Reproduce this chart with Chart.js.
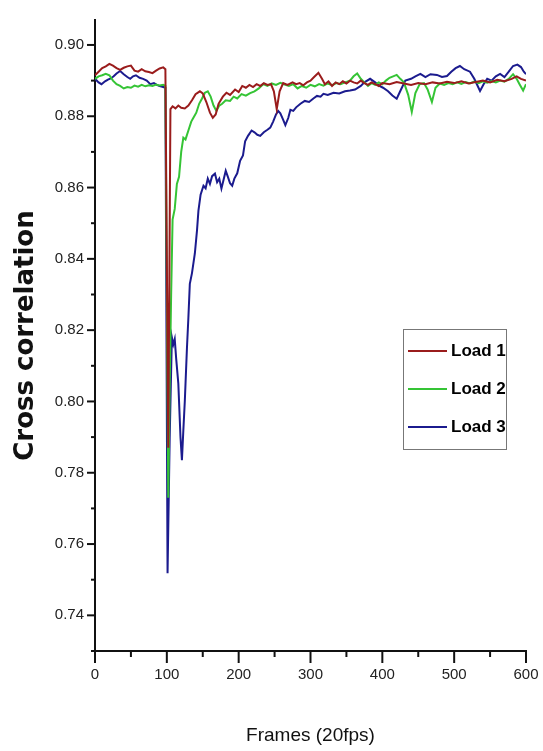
<!DOCTYPE html>
<html>
<head>
<meta charset="utf-8">
<title>Cross correlation</title>
<script src="https://cdn.jsdelivr.net/npm/chart.js@4"></script>
<style>
    body { margin: 0; background: #fff; }
    #wrap { width: 543px; height: 751px; position: relative; }
</style>
</head>
<body>
<div id="wrap"><canvas id="corrChart"></canvas></div>
<script>
const seriesLabels = ['Load 1', 'Load 2', 'Load 3'];
const seriesColors = ['#9a1c1c', '#35c435', '#1b1b8e'];

const load1Frames = [0, 5, 10, 15, 20, 25, 30, 35, 40, 45, 50, 55, 60, 65, 70, 75, 80, 85, 90, 95, 98,
    102, 105, 108, 112, 116, 120, 125, 130, 135, 140, 146, 150, 155, 160, 164, 168, 172, 178, 183, 188,
    195, 200, 205, 210, 215, 220, 225, 230, 235, 240, 245, 249, 253, 257, 262, 268, 275, 280, 285, 290,
    295, 300, 305, 311, 316, 320, 325, 330, 335, 340, 345, 350, 355, 360, 365, 370, 375, 380, 385, 390,
    395, 400, 410, 420, 430, 440, 450, 460, 470, 480, 490, 500, 510, 520, 530, 540, 550, 560, 570, 580,
    587, 593, 600];
const load1Values = [0.8915, 0.8925, 0.8935, 0.8940, 0.8947, 0.8942, 0.8935, 0.8930, 0.8936, 0.8940,
    0.8942, 0.8928, 0.8925, 0.8932, 0.8926, 0.8924, 0.8921, 0.8928, 0.8934, 0.8937, 0.8932,
    0.7870, 0.8820, 0.8828, 0.8822, 0.8830, 0.8824, 0.8822, 0.8830, 0.8845, 0.8862, 0.8870, 0.8864,
    0.8840, 0.8810, 0.8796, 0.8805, 0.8835, 0.8855, 0.8866, 0.8860, 0.8875, 0.8868, 0.8885, 0.8880,
    0.8888, 0.8882, 0.8890, 0.8885, 0.8893, 0.8888, 0.8890, 0.8870, 0.8820, 0.8870, 0.8893, 0.8888,
    0.8895, 0.8890, 0.8893, 0.8887, 0.8895, 0.8900, 0.8910, 0.8922, 0.8905, 0.8890, 0.8898, 0.8885,
    0.8895, 0.8890, 0.8898, 0.8892, 0.8900, 0.8895, 0.8892, 0.8900, 0.8893, 0.8888, 0.8895, 0.8890,
    0.8885, 0.8893, 0.8890, 0.8896, 0.8892, 0.8888, 0.8893, 0.8890, 0.8895, 0.8892, 0.8897, 0.8893,
    0.8898, 0.8892, 0.8896, 0.8900, 0.8895, 0.8902, 0.8898, 0.8905, 0.8912, 0.8905, 0.8900];

const load2Frames = [0, 5, 10, 15, 20, 25, 30, 35, 40, 45, 50, 55, 60, 65, 70, 75, 80, 85, 90, 95, 98,
    102, 104, 106, 108, 111, 114, 117, 120, 123, 126, 130, 134, 137, 141, 145, 149, 153, 157, 161, 165,
    169, 173, 177, 182, 188, 193, 198, 204, 210, 216, 222, 228, 234, 240, 246, 252, 258, 264, 270, 276,
    282, 288, 294, 300, 306, 312, 318, 324, 330, 336, 342, 348, 355, 360, 365, 370, 375, 380, 385, 390,
    395, 400, 405, 410, 415, 420, 425, 430, 436, 441, 446, 452, 458, 463, 469, 474, 480, 486, 492, 498,
    504, 510, 516, 522, 528, 534, 540, 546, 552, 558, 564, 570, 576, 582, 587, 591, 596, 600];
const load2Values = [0.8905, 0.8912, 0.8915, 0.8919, 0.8915, 0.8900, 0.8890, 0.8885, 0.8878, 0.8882,
    0.8880, 0.8886, 0.8883, 0.8888, 0.8884, 0.8887, 0.8885, 0.8889, 0.8886, 0.8888, 0.8885,
    0.7730, 0.8050, 0.8300, 0.8510, 0.8540, 0.8610, 0.8630, 0.8700, 0.8740, 0.8735, 0.8760, 0.8785,
    0.8796, 0.8810, 0.8835, 0.8850, 0.8866, 0.8870, 0.8855, 0.8830, 0.8815, 0.8830, 0.8835, 0.8845,
    0.8843, 0.8855, 0.8850, 0.8862, 0.8858, 0.8865, 0.8870, 0.8878, 0.8890, 0.8885, 0.8892, 0.8888,
    0.8894, 0.8889, 0.8885, 0.8890, 0.8878, 0.8885, 0.8880, 0.8888, 0.8884, 0.8890, 0.8886, 0.8892,
    0.8887, 0.8893, 0.8890, 0.8895, 0.8900, 0.8912, 0.8920, 0.8905, 0.8895, 0.8885, 0.8893, 0.8888,
    0.8895, 0.8890, 0.8900, 0.8908, 0.8912, 0.8916, 0.8905, 0.8895, 0.8860, 0.8812, 0.8865, 0.8890,
    0.8893, 0.8875, 0.8840, 0.8880, 0.8892, 0.8888, 0.8893, 0.8890, 0.8895, 0.8891, 0.8896, 0.8892,
    0.8897, 0.8893, 0.8898, 0.8894, 0.8899, 0.8895, 0.8900, 0.8897, 0.8905, 0.8918, 0.8905, 0.8890,
    0.8872, 0.8890];

const load3Frames = [0, 5, 9, 14, 18, 22, 26, 30, 35, 40, 45, 49, 53, 57, 62, 67, 72, 77, 82, 86, 90, 95,
    98, 101, 104, 107, 109, 111, 113, 116, 119, 121, 123, 125, 128, 130, 132, 135, 139, 142, 144, 147,
    151, 154, 157, 160, 163, 167, 170, 173, 176, 179, 182, 185, 188, 191, 194, 198, 202, 206, 209, 213,
    218, 222, 226, 230, 235, 240, 244, 248, 252, 255, 258, 262, 265, 269, 272, 276, 280, 286, 292, 298,
    304, 309, 314, 318, 324, 332, 340, 348, 355, 362, 370, 375, 383, 390, 396, 401, 408, 414, 420, 426,
    432, 440, 446, 453, 460, 467, 476, 483, 490, 496, 502, 508, 514, 522, 528, 536, 541, 546, 552, 558,
    564, 570, 576, 582, 588, 593, 597, 600];
const load3Values = [0.8905, 0.8895, 0.8890, 0.8898, 0.8903, 0.8906, 0.8912, 0.8920, 0.8927, 0.8918,
    0.8910, 0.8905, 0.8912, 0.8915, 0.8908, 0.8905, 0.8900, 0.8890, 0.8893, 0.8888, 0.8885, 0.8882,
    0.8880, 0.7518, 0.7900, 0.8180, 0.8160, 0.8175, 0.8120, 0.8050, 0.7900, 0.7835, 0.7920, 0.8000,
    0.8150, 0.8235, 0.8330, 0.8360, 0.8415, 0.8480, 0.8535, 0.8580, 0.8605, 0.8598, 0.8625, 0.8610,
    0.8632, 0.8639, 0.8615, 0.8625, 0.8597, 0.8622, 0.8647, 0.8630, 0.8612, 0.8605, 0.8625, 0.8640,
    0.8675, 0.8690, 0.8730, 0.8745, 0.8760, 0.8755, 0.8748, 0.8745, 0.8755, 0.8762, 0.8768, 0.8785,
    0.8805, 0.8815, 0.8808, 0.8790, 0.8775, 0.8795, 0.8818, 0.8815, 0.8825, 0.8835, 0.8843, 0.8840,
    0.8850, 0.8857, 0.8855, 0.8863, 0.8860, 0.8866, 0.8864, 0.8870, 0.8872, 0.8875, 0.8885, 0.8895,
    0.8905, 0.8895, 0.8885, 0.8880, 0.8870, 0.8858, 0.8849, 0.8875, 0.8900, 0.8905, 0.8912, 0.8919,
    0.8910, 0.8918, 0.8916, 0.8910, 0.8913, 0.8925, 0.8935, 0.8941, 0.8932, 0.8925, 0.8905, 0.8871,
    0.8890, 0.8905, 0.8900, 0.8912, 0.8919, 0.8910, 0.8925, 0.8941, 0.8945, 0.8938, 0.8925, 0.8918];

const yTickLabels = ['0.74', '0.76', '0.78', '0.80', '0.82', '0.84', '0.86', '0.88', '0.90'];
const xTickLabels = ['0', '100', '200', '300', '400', '500', '600'];

const toPoints = (frames, values) => frames.map((f, i) => ({ x: f, y: values[i] }));

const sans = 'Arial, "Liberation Sans", sans-serif';

// tick marks drawn by hand: long ones on labelled values, short ones between
const axisTicks = {
    id: 'axisTicks',
    afterDraw(chart) {
        const { ctx, scales: { x, y } } = chart;
        ctx.save();
        ctx.strokeStyle = '#111';
        ctx.lineWidth = 2;
        x.ticks.forEach(t => {
            const px = x.getPixelForValue(t.value);
            const len = xTickLabels.includes(String(Math.round(t.value))) ? 12 : 6;
            ctx.beginPath();
            ctx.moveTo(px, x.top);
            ctx.lineTo(px, x.top + len);
            ctx.stroke();
        });
        y.ticks.forEach(t => {
            const py = y.getPixelForValue(t.value);
            const len = yTickLabels.includes(t.value.toFixed(2)) ? 8 : 4;
            ctx.beginPath();
            ctx.moveTo(y.right, py);
            ctx.lineTo(y.right - len, py);
            ctx.stroke();
        });
        ctx.restore();
    }
};

// boxed legend inside the plot, like the original
const boxLegend = {
    id: 'boxLegend',
    afterDraw(chart) {
        const { ctx, chartArea } = chart;
        const left = chartArea.right - 123;
        const top = chartArea.top + 309;
        ctx.save();
        ctx.strokeStyle = '#777';
        ctx.lineWidth = 1;
        ctx.strokeRect(left + 0.5, top + 0.5, 103, 120);
        ctx.font = 'bold 17px ' + sans;
        ctx.textBaseline = 'middle';
        chart.data.datasets.forEach((ds, i) => {
            const rowY = top + 22 + i * 38;
            ctx.strokeStyle = ds.borderColor;
            ctx.lineWidth = 2;
            ctx.beginPath();
            ctx.moveTo(left + 5, rowY);
            ctx.lineTo(left + 44, rowY);
            ctx.stroke();
            ctx.fillStyle = '#000';
            ctx.fillText(ds.label, left + 48, rowY);
        });
        ctx.restore();
    }
};

document.addEventListener('DOMContentLoaded', () => {
    const canvas = document.getElementById('corrChart');
    const allFrames = [load1Frames, load2Frames, load3Frames];
    const allValues = [load1Values, load2Values, load3Values];

    new Chart(canvas, {
        type: 'line',
        data: {
            datasets: seriesLabels.map((label, i) => ({
                label: label,
                data: toPoints(allFrames[i], allValues[i]),
                borderColor: seriesColors[i],
                borderWidth: 2,
                pointRadius: 0,
                tension: 0,
                fill: false
            }))
        },
        options: {
            responsive: true,
            maintainAspectRatio: false,
            animation: false,
            layout: { padding: { left: 0, right: 17, top: 18, bottom: 0 } },
            plugins: {
                legend: { display: false },
                tooltip: { enabled: false }
            },
            scales: {
                x: {
                    type: 'linear',
                    min: 0,
                    max: 600,
                    afterFit: (scale) => {
                        scale.height = 100;
                        scale.paddingLeft = 0;
                        scale.paddingRight = 0;
                    },
                    border: { display: true, color: '#111', width: 2 },
                    grid: { display: false, drawTicks: false },
                    ticks: {
                        stepSize: 50,
                        padding: 15,
                        maxRotation: 0,
                        autoSkip: false,
                        color: '#222',
                        font: { family: sans, size: 15 },
                        callback: (v) => {
                            const s = String(Math.round(v));
                            return xTickLabels.includes(s) ? s : '';
                        }
                    },
                    title: {
                        display: true,
                        text: 'Frames (20fps)',
                        color: '#111',
                        font: { family: sans, size: 19 },
                        padding: { top: 0, bottom: 4 }
                    }
                },
                y: {
                    min: 0.73,
                    max: 0.907,
                    afterFit: (scale) => { scale.width = 95; },
                    border: { display: true, color: '#111', width: 2 },
                    grid: { display: false, drawTicks: false },
                    ticks: {
                        stepSize: 0.01,
                        includeBounds: false,
                        padding: 11,
                        autoSkip: false,
                        color: '#222',
                        font: { family: sans, size: 15 },
                        callback: (v) => {
                            const s = v.toFixed(2);
                            return yTickLabels.includes(s) ? s : '';
                        }
                    },
                    title: {
                        display: true,
                        text: 'Cross correlation',
                        color: '#111',
                        font: { family: '"DejaVu Sans", Arial, sans-serif', size: 26, weight: 'bold' },
                        padding: { top: 11, bottom: 0 }
                    }
                }
            }
        },
        plugins: [axisTicks, boxLegend]
    });
});
</script>
</body>
</html>
